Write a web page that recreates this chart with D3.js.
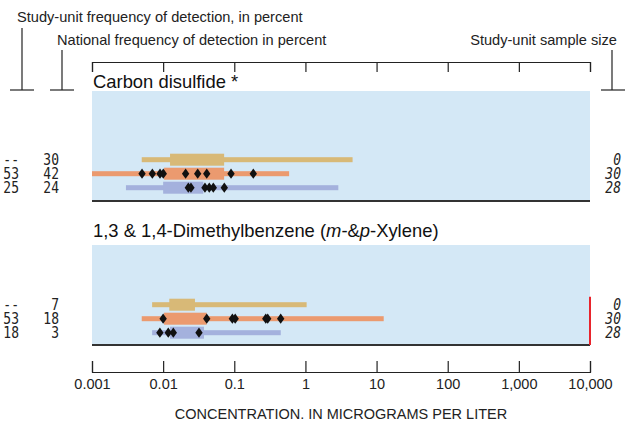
<!DOCTYPE html>
<html><head><meta charset="utf-8">
<script src="https://cdn.jsdelivr.net/npm/d3@7"></script>
<style>body{margin:0;background:#fff}svg{display:block}</style>
</head><body>
<svg id="c" width="631" height="425"></svg>
<script>
// ---- data ----
const tickValues = [0.001, 0.01, 0.1, 1, 10, 100, 1000, 10000];
const compounds = ["Carbon disulfide *", "1,3 & 1,4-Dimethylbenzene (m-&p-Xylene)"];
const seriesNames = ["national", "studyUnit", "studyUnitOther"];
// per compound: [thinMin, thinMax, boxMin, boxMax] for gold, orange, blue rows
const goldRanges = [[0.005, 4.6, 0.0125, 0.072], [0.007, 1.04, 0.0122, 0.028]];
const orangeRanges = [[0.001, 0.59, 0.0103, 0.072], [0.005, 12.6, 0.0103, 0.041]];
const blueRanges = [[0.003, 2.9, 0.0100, 0.0367], [0.007, 0.45, 0.0125, 0.0375]];
const orangeDots = [[0.00505, 0.00705, 0.00904, 0.01005, 0.0207, 0.0306, 0.041, 0.090, 0.185],
                    [0.0100, 0.041, 0.094, 0.103, 0.277, 0.295, 0.449]];
const blueDots = [[0.0226, 0.0246, 0.0387, 0.0445, 0.0507, 0.0724],
                  [0.009, 0.0118, 0.0139, 0.0319]];
const studyFreq = [["--", "53", "25"], ["--", "53", "18"]];
const nationalFreq = [["30", "42", "24"], ["7", "18", "3"]];
const sampleSize = [["0", "30", "28"], ["0", "30", "28"]];
const redMarker = [null, 10000];

const svg = d3.select("#c");
const x = d3.scaleLog().domain([0.001, 10000]).range([92, 590]);
const fmt = d3.format(",");
const colors = ["#d8b977", "#eb9a6f", "#a4b1dd"];

// header texts
const sans = "Liberation Sans, Arial, Helvetica, sans-serif";
svg.append("text").attr("x", 17).attr("y", 22).attr("font-family", sans).attr("font-size", 14.6).attr("fill", "#222")
  .text("Study-unit frequency of detection, in percent");
svg.append("text").attr("x", 57).attr("y", 45).attr("font-family", sans).attr("font-size", 14.6).attr("fill", "#222")
  .text("National frequency of detection in percent");
svg.append("text").attr("x", 617).attr("y", 45).attr("text-anchor", "end").attr("font-family", sans).attr("font-size", 14.6).attr("fill", "#222")
  .text("Study-unit sample size");
const brk = [[22, 28, 10, 34], [62, 50, 50, 74], [612, 50, 601, 625]];
brk.forEach(([cx, y0, x0, x1]) => {
  svg.append("line").attr("x1", cx).attr("x2", cx).attr("y1", y0).attr("y2", 90).attr("stroke", "#222").attr("stroke-width", 1.2);
  svg.append("line").attr("x1", x0).attr("x2", x1).attr("y1", 90).attr("y2", 90).attr("stroke", "#222").attr("stroke-width", 1.2);
});

// top axis
const topAxis = svg.append("g").attr("transform", "translate(0,62)")
  .call(d3.axisBottom(x).tickValues(tickValues).tickFormat("").tickSizeOuter(0).tickSize(10));
topAxis.select(".domain").attr("stroke", "#222").attr("stroke-width", 1.2);
topAxis.selectAll(".tick line").attr("stroke", "#222").attr("stroke-width", 1.2);

// panels
const panels = [{top: 91, bottom: 201, title: 88}, {top: 245, bottom: 345, title: 237}];
const rowOffsets = [-14, 0, 14];
const rowCenters = [173.7, 318.7];
const mono = "DejaVu Sans Mono, monospace";

panels.forEach((p, i) => {
  svg.append("rect").attr("x", x(0.001)).attr("y", p.top).attr("width", x(10000) - x(0.001)).attr("height", p.bottom - p.top)
    .attr("fill", "#d4e8f6");
  svg.append("line").attr("x1", x(0.001)).attr("x2", x(10000)).attr("y1", p.bottom).attr("y2", p.bottom)
    .attr("stroke", "#333").attr("stroke-width", 2);
  const t = svg.append("text").attr("x", 93).attr("y", p.title).attr("font-family", sans).attr("font-size", 18.4).attr("fill", "#111");
  if (i === 1) {
    t.append("tspan").text("1,3 & 1,4-Dimethylbenzene (");
    t.append("tspan").attr("font-style", "italic").text("m");
    t.append("tspan").text("-&");
    t.append("tspan").attr("font-style", "italic").text("p");
    t.append("tspan").text("-Xylene)");
  } else t.text(compounds[i]);

  const ranges = [goldRanges[i], orangeRanges[i], blueRanges[i]];
  ranges.forEach((r, k) => {
    const cy = rowCenters[i] + rowOffsets[k];
    svg.append("rect").attr("x", x(r[0])).attr("y", cy - 2.5).attr("width", x(r[1]) - x(r[0])).attr("height", 5).attr("fill", colors[k]);
    svg.append("rect").attr("x", x(r[2])).attr("y", cy - 6).attr("width", x(r[3]) - x(r[2])).attr("height", 12).attr("fill", colors[k]);
  });
  const diamond = d3.symbol().type(d3.symbolDiamond).size(30);
  [[orangeDots[i], 1], [blueDots[i], 2]].forEach(([dots, k]) => {
    const cy = rowCenters[i] + rowOffsets[k];
    svg.selectAll(null).data(dots).enter().append("path").attr("d", diamond)
      .attr("transform", d => `translate(${x(d)},${cy}) scale(1.25,1)`).attr("fill", "#111");
  });
  if (redMarker[i]) {
    svg.append("line").attr("x1", x(redMarker[i])).attr("x2", x(redMarker[i]))
      .attr("y1", rowCenters[i] - 22).attr("y2", p.bottom).attr("stroke", "#e8242c").attr("stroke-width", 2);
  }
  [0, 1, 2].forEach(k => {
    const cy = rowCenters[i] + rowOffsets[k] + 5;
    const add = (xx, txt, italic) => svg.append("text")
      .attr("transform", `translate(${xx},${cy}) scale(1,1.18)`)
      .attr("text-anchor", "end").attr("font-family", mono).attr("font-style", italic ? "italic" : "normal")
      .attr("font-size", 13).attr("fill", "#222").text(txt);
    add(19, studyFreq[i][k], false);
    add(59, nationalFreq[i][k], false);
    add(621, sampleSize[i][k], true);
  });
});

// bottom axis
const botAxis = svg.append("g").attr("transform", "translate(0,372)")
  .call(d3.axisTop(x).tickValues(tickValues).tickFormat(d => fmt(d)).tickSizeOuter(0).tickSize(11));
botAxis.select(".domain").attr("stroke", "#222").attr("stroke-width", 1.2);
botAxis.selectAll(".tick line").attr("stroke", "#222").attr("stroke-width", 1.2);
botAxis.selectAll(".tick text").attr("y", 17).attr("dy", 0).attr("font-family", sans).attr("font-size", 14.5).attr("fill", "#222");
svg.append("text").attr("x", 341).attr("y", 419).attr("text-anchor", "middle").attr("font-family", sans).attr("font-size", 14.5).attr("fill", "#222")
  .text("CONCENTRATION. IN MICROGRAMS PER LITER");
</script>
</body></html>
